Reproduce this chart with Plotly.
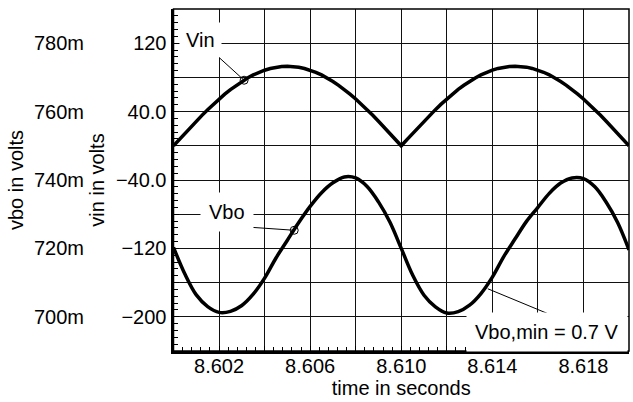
import plotly.graph_objects as go

# ---------------- data ----------------
time_vin = [round(8.600 + 0.00025 * i, 5) for i in range(81)]
vin_volts = [0.0, 7.3, 14.5, 21.7, 28.7, 35.6, 42.2, 48.6, 54.7, 60.4,
             65.8, 70.7, 75.2, 79.3, 82.9, 85.9, 88.4, 90.4, 91.9, 92.7,
             93.0, 92.7, 91.9, 90.4, 88.4, 85.9, 82.9, 79.3, 75.2, 70.7,
             65.8, 60.4, 54.7, 48.6, 42.2, 35.6, 28.7, 21.7, 14.5, 7.3,
             0.0, 7.3, 14.6, 21.8, 28.8, 35.7, 42.3, 48.7, 54.8, 60.5,
             65.9, 70.8, 75.3, 79.4, 83.0, 86.0, 88.5, 90.5, 92.0, 92.8,
             93.1, 92.8, 92.0, 90.5, 88.5, 86.0, 83.0, 79.4, 75.2, 70.7,
             65.8, 60.4, 54.7, 48.6, 42.2, 35.6, 28.7, 21.7, 14.5, 7.3, 0.0]

time_vbo = [round(8.600 + 0.0005 * i, 4) for i in range(41)]
vbo_volts = [0.7203, 0.7125, 0.7064, 0.7030, 0.7013, 0.7016, 0.7033, 0.7066,
             0.7113, 0.7172, 0.7224, 0.7276, 0.7323, 0.7363, 0.7392, 0.7409,
             0.7406, 0.7381, 0.7336, 0.7277, 0.7200, 0.7122, 0.7063, 0.7029,
             0.7011, 0.7015, 0.7034, 0.7068, 0.7116, 0.7176, 0.7228, 0.7279,
             0.7320, 0.7361, 0.7391, 0.7406, 0.7404, 0.7380, 0.7335, 0.7276,
             0.7196]

vin_marker_t, vin_marker_v = [8.6031], [76.7]
vbo_marker_t, vbo_marker_v = [8.6053], [0.7253]
vbo_min_point_t, vbo_min_point_v = 8.6138, 0.7082

x_grid = [8.600, 8.602, 8.604, 8.606, 8.608, 8.610, 8.612, 8.614, 8.616, 8.618, 8.620]
x_labels = ["", "8.602", "", "8.606", "", "8.610", "", "8.614", "", "8.618", ""]
vin_grid = [-200, -160, -120, -80, -40, 0, 40, 80, 120]
vin_labels = ["\u2212200", "", "\u2212120", "", "\u221240.0", "", "40.0", "", "120"]
vbo_ticks = [0.70, 0.72, 0.74, 0.76, 0.78]
vbo_labels = ["700m", "720m", "740m", "760m", "780m"]

# ---------------- figure ----------------
FONT = "Liberation Sans, Arial, Helvetica, sans-serif"
W, H = 633, 402
ML, MR, MT, MB = 0, 4, 9, 51
paper_w = W - ML - MR
x0 = 173.5 / paper_w

fig = go.Figure()
fig.add_trace(go.Scatter(x=time_vin, y=vin_volts, mode="lines",
                         line=dict(color="black", width=3.5), yaxis="y",
                         showlegend=False, hoverinfo="skip"))
fig.add_trace(go.Scatter(x=time_vbo, y=vbo_volts, mode="lines",
                         line=dict(color="black", width=3.5, shape="spline"),
                         yaxis="y2", showlegend=False, hoverinfo="skip"))
fig.add_trace(go.Scatter(x=vin_marker_t, y=vin_marker_v, mode="markers",
                         marker=dict(symbol="circle-open", size=8, color="black",
                                     line=dict(width=1)),
                         yaxis="y", showlegend=False, hoverinfo="skip"))
fig.add_trace(go.Scatter(x=vbo_marker_t, y=vbo_marker_v, mode="markers",
                         marker=dict(symbol="circle-open", size=8, color="black",
                                     line=dict(width=1)),
                         yaxis="y2", showlegend=False, hoverinfo="skip"))

tickfont = dict(family=FONT, size=20, color="black")

fig.update_layout(
    width=W, height=H,
    margin=dict(l=ML, r=MR, t=MT, b=MB, pad=0),
    paper_bgcolor="white", plot_bgcolor="white",
    font=dict(family=FONT, size=20, color="black"),
    xaxis=dict(domain=[x0, 1], range=[8.600, 8.620], tickmode="array",
               tickvals=x_grid, ticktext=x_labels, showgrid=True,
               gridcolor="#111", gridwidth=1, zeroline=False,
               showline=True, linecolor="black", linewidth=3,
               ticks="inside", ticklen=5, tickcolor="black", tickwidth=1,
               tickfont=tickfont, ticklabelstandoff=-5,
               minor=dict(tick0=8.600, dtick=0.0004, ticks="inside", ticklen=4,
                          tickcolor="black", tickwidth=1, showgrid=False),
               title=dict(text="time in seconds", font=tickfont, standoff=0)),
    yaxis=dict(range=[-240, 160], tickmode="array", tickvals=vin_grid,
               ticktext=vin_labels, showgrid=True, gridcolor="#111", gridwidth=1,
               zeroline=False, showline=True, linecolor="black", linewidth=3,
               ticks="inside", ticklen=5, tickcolor="black", tickwidth=1,
               tickfont=tickfont, ticklabelstandoff=0, anchor="x",
               minor=dict(tick0=0, dtick=8, ticks="inside", ticklen=4,
                          tickcolor="black", tickwidth=1, showgrid=False),
               title=dict(text="vin in volts", font=tickfont, standoff=6)),
    yaxis2=dict(range=[0.69, 0.79], overlaying="y", anchor="free",
                position=84 / paper_w, side="left", tickmode="array",
                tickvals=vbo_ticks, ticktext=vbo_labels, showgrid=False,
                zeroline=False, showline=False, ticks="", tickfont=tickfont,
                title=dict(text="vbo in volts", font=tickfont, standoff=3)),
    shapes=[dict(type="rect", xref="paper", yref="paper", x0=x0, x1=1, y0=0, y1=1,
                 line=dict(color="black", width=1.5), layer="above")],
    annotations=[
        dict(x=vin_marker_t[0], y=vin_marker_v[0], xref="x", yref="y",
             text="Vin", showarrow=True, arrowhead=0, arrowwidth=1,
             arrowcolor="black", ax=-44, ay=-40, bgcolor="white", borderpad=6,
             font=tickfont),
        dict(x=vbo_marker_t[0], y=vbo_marker_v[0], xref="x", yref="y2",
             text=" ", showarrow=True, arrowhead=0, arrowwidth=1,
             arrowcolor="black", ax=-58, ay=-4, font=dict(size=2)),
        dict(x=vbo_marker_t[0], y=vbo_marker_v[0], xref="x", yref="y2",
             text="Vbo", showarrow=False, xshift=-67, yshift=18,
             bgcolor="white", borderpad=8, font=tickfont),
        dict(x=vbo_min_point_t, y=vbo_min_point_v, xref="x", yref="y2",
             text=" ", showarrow=True, arrowhead=0, arrowwidth=1,
             arrowcolor="black", ax=70, ay=29, font=dict(size=2)),
        dict(x=vbo_min_point_t, y=vbo_min_point_v, xref="x", yref="y2",
             text="Vbo,min = 0.7 V", showarrow=False, xshift=59, yshift=-43,
             bgcolor="white", borderpad=8, font=tickfont),
    ],
)

fig.write_html("out.html", config={"displayModeBar": False},
               post_script="document.body.style.margin='0';")
